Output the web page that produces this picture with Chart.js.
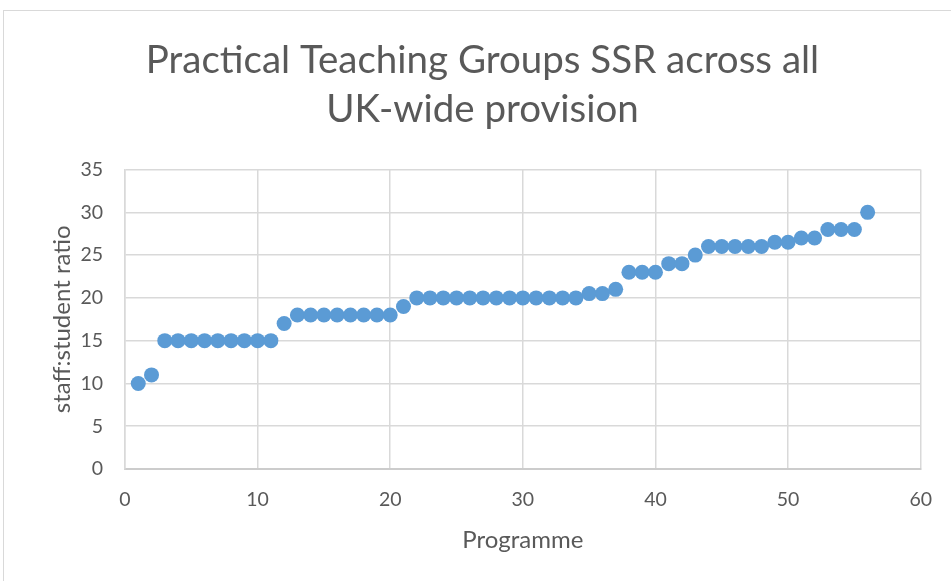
<!DOCTYPE html>
<html lang="en">
<head>
<meta charset="utf-8">
<title>Practical Teaching Groups SSR</title>
<script src="https://cdn.jsdelivr.net/npm/chart.js@4/dist/chart.umd.min.js"></script>
<style>
  html, body { margin: 0; padding: 0; background: #fff; overflow: hidden; }
  .frame {
    position: absolute;
    left: 3px;
    top: 10px;
    width: 1200px;
    height: 800px;
    border-top: 1px solid #d9d9d9;
    border-left: 1px solid #d9d9d9;
  }
  #ssrChart { position: absolute; left: 0; top: 0; }
</style>
</head>
<body>
<div class="frame"></div>
<canvas id="ssrChart" width="951" height="581"></canvas>
<script>
const chartTitle = ["Practical Teaching Groups SSR across all", "UK-wide provision"];
const xTitle = "Programme";
const yTitle = "staff:student ratio";

const programmes = [
  1, 2, 3, 4, 5, 6, 7, 8, 9, 10, 11, 12, 13, 14, 15, 16, 17, 18, 19, 20,
  21, 22, 23, 24, 25, 26, 27, 28, 29, 30, 31, 32, 33, 34, 35, 36, 37, 38, 39, 40,
  41, 42, 43, 44, 45, 46, 47, 48, 49, 50, 51, 52, 53, 54, 55, 56,
];
const ssrValues = [
  10, 11, 15, 15, 15, 15, 15, 15, 15, 15, 15, 17, 18, 18, 18, 18, 18, 18, 18, 18,
  19, 20, 20, 20, 20, 20, 20, 20, 20, 20, 20, 20, 20, 20, 20.5, 20.5, 21, 23, 23, 23,
  24, 24, 25, 26, 26, 26, 26, 26, 26.5, 26.5, 27, 27, 28, 28, 28, 30,
];
const xTicks = [0, 10, 20, 30, 40, 50, 60];
const yTicks = [0, 5, 10, 15, 20, 25, 30, 35];

const FONT = "Lato, 'Open Sans', sans-serif";
const TEXT_GREY = "#595959";
const GRID_GREY = "#d9d9d9";

function buildPoints() {
  return programmes.map((p, i) => ({ x: p, y: ssrValues[i] }));
}

function initSsrChart() {
  const el = document.getElementById("ssrChart");
  if (!el || typeof Chart === "undefined") return null;

  return new Chart(el.getContext("2d"), {
    type: "scatter",
    data: {
      datasets: [
        {
          label: yTitle,
          data: buildPoints(),
          backgroundColor: "#5b9bd5",
          borderColor: "#5b9bd5",
          borderWidth: 0,
          pointRadius: 7.5,
          pointHoverRadius: 7.5,
        },
      ],
    },
    options: {
      responsive: false,
      animation: false,
      layout: { padding: { top: 0, left: 43, right: 29, bottom: 26 } },
      plugins: {
        legend: { display: false },
        tooltip: { enabled: false },
        title: {
          display: true,
          text: chartTitle,
          color: TEXT_GREY,
          font: { family: FONT, size: 38.5, weight: "normal", lineHeight: 1.28 },
          padding: { top: 36, bottom: 35 },
        },
      },
      scales: {
        x: {
          type: "linear",
          min: xTicks[0],
          max: xTicks[xTicks.length - 1],
          afterBuildTicks: (s) => { s.ticks = xTicks.map((v) => ({ value: v })); },
          afterFit: (s) => { s.height = 86; },
          ticks: { color: TEXT_GREY, padding: 19, font: { family: FONT, size: 19.5 } },
          grid: { color: GRID_GREY, lineWidth: 1.5, drawTicks: false },
          border: { color: "#cccccc", width: 2 },
          title: {
            display: true,
            text: xTitle,
            color: TEXT_GREY,
            padding: 0,
            font: { family: FONT, size: 24, lineHeight: 1.2 },
          },
        },
        y: {
          type: "linear",
          min: yTicks[0],
          max: yTicks[yTicks.length - 1],
          afterBuildTicks: (s) => { s.ticks = yTicks.map((v) => ({ value: v })); },
          afterFit: (s) => { s.width = 82; },
          ticks: { color: TEXT_GREY, padding: 22, font: { family: FONT, size: 19.5 } },
          grid: { color: GRID_GREY, lineWidth: 1.5, drawTicks: false },
          border: { color: GRID_GREY, width: 1.5 },
          title: {
            display: true,
            text: yTitle,
            color: TEXT_GREY,
            padding: { top: 5, bottom: 0 },
            font: { family: FONT, size: 24, lineHeight: 1.2 },
          },
        },
      },
    },
  });
}

document.addEventListener("DOMContentLoaded", initSsrChart);
</script>
</body>
</html>
